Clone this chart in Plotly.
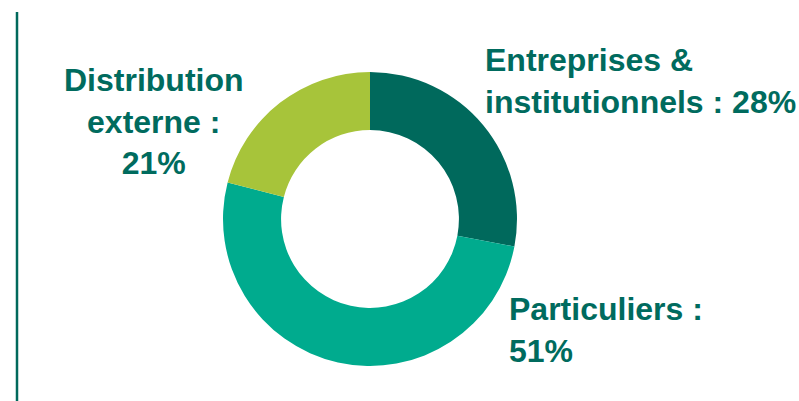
import plotly.graph_objects as go

categories = ["Entreprises & institutionnels", "Particuliers", "Distribution externe"]
values = [28, 51, 21]
label_texts = ["Entreprises &<br>institutionnels : 28%", "Particuliers :<br>51%", "Distribution<br>externe :<br>21%"]
colors = ["#00695C", "#00AB8E", "#A7C43A"]
text_color = "#006B5E"

W, H = 799, 401
cx, cy, r = 370, 219, 147

fig = go.Figure(go.Pie(
    labels=categories, values=values, hole=0.605, sort=False, direction="clockwise",
    rotation=0, textinfo="none", hoverinfo="label+percent",
    marker=dict(colors=colors, line=dict(width=0)),
    domain=dict(x=[(cx - r) / W, (cx + r) / W], y=[(H - cy - r) / H, (H - cy + r) / H]),
    showlegend=False,
))

# label positions (paper px from left/top) and alignment
pos = [(483, 40, "left", "left"), (507, 289, "left", "left"), (154, 60, "center", "center")]
for txt, (x, y, al, xa) in zip(label_texts, pos):
    fig.add_annotation(x=x / W, y=1 - y / H, xref="paper", yref="paper", text=f"<b>{txt}</b>",
                       showarrow=False, xanchor=xa, yanchor="top", align=al,
                       font=dict(family="Liberation Sans, Arial, sans-serif", size=32, color=text_color))

fig.add_shape(type="line", xref="paper", yref="paper", x0=17 / W, x1=17 / W, y0=0, y1=1 - 12 / H,
              line=dict(color="#00695C", width=2.5))

fig.update_layout(width=W, height=H, margin=dict(l=0, r=0, t=0, b=0),
                  paper_bgcolor="white", plot_bgcolor="white")
fig.write_html("out.html", config={"displayModeBar": False},
               post_script="document.body.style.margin='0px';")
